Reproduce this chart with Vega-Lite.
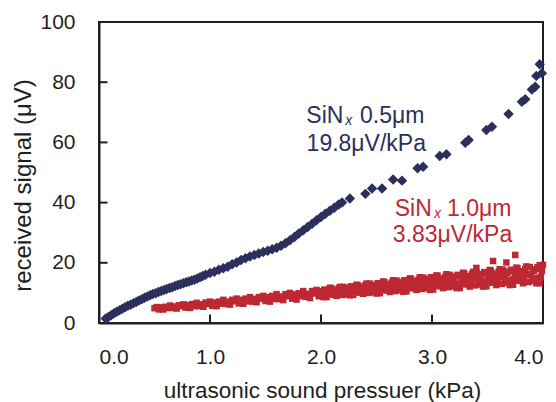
{
  "$schema": "https://vega.github.io/schema/vega-lite/v6.json",
  "width": 444,
  "height": 301,
  "autosize": {"type": "none"},
  "padding": {"left": 99, "top": 22, "right": 13, "bottom": 79},
  "background": "white",
  "config": {
    "view": {"stroke": "#231F20", "strokeWidth": 2},
    "font": "Liberation Sans",
    "axis": {
      "grid": false,
      "zindex": 1,
      "ticks": false,
      "domainColor": "#231F20",
      "domainWidth": 2,
      "labelFont": "Liberation Sans",
      "labelFontSize": 21,
      "labelColor": "#231F20",
      "titleFont": "Liberation Sans",
      "titleFontWeight": "normal",
      "titleColor": "#231F20"
    }
  },
  "datasets": {
    "blue": [
      {"p":0.06,"v":1.5},{"p":0.085,"v":2.0},{"p":0.11,"v":2.6},{"p":0.135,"v":3.2},{"p":0.16,"v":3.7},{"p":0.185,"v":4.2},{"p":0.21,"v":4.7},{"p":0.235,"v":5.2},{"p":0.26,"v":5.7},{"p":0.285,"v":6.1},{"p":0.31,"v":6.6},{"p":0.335,"v":7.0},{"p":0.36,"v":7.5},{"p":0.385,"v":7.9},{"p":0.41,"v":8.4},{"p":0.435,"v":8.8},{"p":0.46,"v":9.2},{"p":0.485,"v":9.6},{"p":0.51,"v":9.9},{"p":0.535,"v":10.3},{"p":0.56,"v":10.6},{"p":0.585,"v":11.0},{"p":0.61,"v":11.3},{"p":0.635,"v":11.6},{"p":0.66,"v":11.9},{"p":0.685,"v":12.3},{"p":0.71,"v":12.6},{"p":0.735,"v":12.9},{"p":0.76,"v":13.2},{"p":0.785,"v":13.5},{"p":0.81,"v":13.8},{"p":0.835,"v":14.1},{"p":0.86,"v":14.4},{"p":0.885,"v":14.8},{"p":0.91,"v":15.2},{"p":0.935,"v":15.6},{"p":0.96,"v":16.0},
      {"p":1.0,"v":16.6},{"p":1.04,"v":17.0},{"p":1.08,"v":17.7},{"p":1.12,"v":18.2},{"p":1.16,"v":18.7},{"p":1.2,"v":19.5},{"p":1.24,"v":20.1},{"p":1.28,"v":20.9},{"p":1.32,"v":21.5},{"p":1.36,"v":22.1},{"p":1.4,"v":22.6},{"p":1.44,"v":23.1},{"p":1.48,"v":23.6},{"p":1.52,"v":24.0},{"p":1.56,"v":24.5},{"p":1.6,"v":25.0},{"p":1.64,"v":25.7},{"p":1.68,"v":26.5},{"p":1.72,"v":27.5},{"p":1.76,"v":28.6},{"p":1.8,"v":29.7},{"p":1.84,"v":30.8},{"p":1.88,"v":31.9},{"p":1.92,"v":33.0},{"p":1.96,"v":34.1},{"p":2.0,"v":35.2},{"p":2.04,"v":36.3},{"p":2.08,"v":37.3},{"p":2.12,"v":38.3},{"p":2.16,"v":39.4},{"p":2.19,"v":40.0},{"p":2.26,"v":41.4},
      {"p":2.40,"v":42.9},{"p":2.46,"v":44.7},{"p":2.55,"v":44.7},{"p":2.65,"v":47.7},{"p":2.73,"v":47.3},{"p":2.87,"v":51.4},{"p":2.92,"v":51.9},{"p":3.07,"v":55.5},{"p":3.13,"v":56.1},{"p":3.30,"v":59.9},{"p":3.33,"v":60.8},{"p":3.49,"v":64.1},{"p":3.54,"v":65.2},{"p":3.69,"v":69.4},{"p":3.81,"v":73.5},{"p":3.84,"v":74.3},{"p":3.90,"v":77.6},{"p":3.93,"v":78.5},{"p":3.94,"v":82.1},{"p":3.99,"v":83.0},{"p":3.97,"v":86.0}
    ],
    "red": [
      {"p":0.50,"v":4.9},{"p":0.52,"v":5.3},{"p":0.54,"v":4.5},{"p":0.56,"v":5.2},{"p":0.58,"v":4.5},{"p":0.60,"v":5.4},{"p":0.62,"v":5.0},{"p":0.64,"v":5.8},{"p":0.66,"v":5.0},{"p":0.68,"v":5.5},{"p":0.70,"v":4.8},{"p":0.72,"v":5.9},{"p":0.74,"v":5.6},{"p":0.76,"v":6.2},{"p":0.78,"v":5.1},{"p":0.80,"v":6.0},{"p":0.82,"v":5.0},{"p":0.84,"v":6.3},{"p":0.86,"v":5.6},{"p":0.88,"v":6.7},{"p":0.90,"v":5.6},{"p":0.92,"v":6.2},{"p":0.94,"v":5.4},{"p":0.96,"v":6.8},{"p":0.98,"v":6.3},
      {"p":1.00,"v":7.1},{"p":1.02,"v":5.7},{"p":1.04,"v":6.8},{"p":1.06,"v":5.6},{"p":1.08,"v":7.1},{"p":1.10,"v":6.4},{"p":1.12,"v":7.7},{"p":1.14,"v":6.3},{"p":1.16,"v":7.1},{"p":1.18,"v":6.1},{"p":1.20,"v":7.7},{"p":1.22,"v":7.2},{"p":1.24,"v":8.1},{"p":1.26,"v":6.5},{"p":1.28,"v":7.7},{"p":1.30,"v":6.4},{"p":1.32,"v":8.1},{"p":1.34,"v":7.2},{"p":1.36,"v":8.6},{"p":1.38,"v":7.1},{"p":1.40,"v":8.0},{"p":1.42,"v":6.9},{"p":1.44,"v":8.6},{"p":1.46,"v":8.1},{"p":1.48,"v":9.0},{"p":1.50,"v":7.3},{"p":1.52,"v":8.6},{"p":1.54,"v":7.1},{"p":1.56,"v":9.0},{"p":1.58,"v":8.0},{"p":1.60,"v":9.6},{"p":1.62,"v":7.9},{"p":1.64,"v":8.8},{"p":1.66,"v":7.6},{"p":1.68,"v":9.6},{"p":1.70,"v":8.9},{"p":1.72,"v":10.0},{"p":1.74,"v":8.1},{"p":1.76,"v":9.5},{"p":1.78,"v":7.8},{"p":1.80,"v":9.9},{"p":1.82,"v":8.9},{"p":1.84,"v":10.6},{"p":1.86,"v":8.7},{"p":1.88,"v":9.7},{"p":1.90,"v":8.3},{"p":1.92,"v":10.6},{"p":1.94,"v":9.8},{"p":1.96,"v":11.0},{"p":1.98,"v":8.9},
      {"p":2.00,"v":10.5},{"p":2.02,"v":8.6},{"p":2.04,"v":10.9},{"p":2.06,"v":9.7},{"p":2.08,"v":11.7},{"p":2.10,"v":9.5},{"p":2.12,"v":10.6},{"p":2.14,"v":9.0},{"p":2.16,"v":11.5},{"p":2.18,"v":10.7},{"p":2.20,"v":12.0},{"p":2.22,"v":9.5},{"p":2.24,"v":11.4},{"p":2.26,"v":9.2},{"p":2.28,"v":11.9},{"p":2.30,"v":10.4},{"p":2.32,"v":12.7},{"p":2.34,"v":10.2},{"p":2.36,"v":11.5},{"p":2.38,"v":9.7},{"p":2.40,"v":12.5},{"p":2.42,"v":11.5},{"p":2.44,"v":13.1},{"p":2.46,"v":10.2},{"p":2.48,"v":12.3},{"p":2.50,"v":9.8},{"p":2.52,"v":12.8},{"p":2.54,"v":11.2},{"p":2.56,"v":13.8},{"p":2.58,"v":11.0},{"p":2.60,"v":12.4},{"p":2.62,"v":10.3},{"p":2.64,"v":13.5},{"p":2.66,"v":12.4},{"p":2.68,"v":14.1},{"p":2.70,"v":10.9},{"p":2.72,"v":13.2},{"p":2.74,"v":10.4},{"p":2.76,"v":13.8},{"p":2.78,"v":12.0},{"p":2.80,"v":14.8},{"p":2.82,"v":11.7},{"p":2.84,"v":13.3},{"p":2.86,"v":11.0},{"p":2.88,"v":14.5},{"p":2.90,"v":13.3},{"p":2.92,"v":15.1},{"p":2.94,"v":11.6},{"p":2.96,"v":14.2},{"p":2.98,"v":11.0},
      {"p":3.00,"v":14.8},{"p":3.02,"v":12.8},{"p":3.04,"v":15.8},{"p":3.06,"v":12.4},{"p":3.08,"v":14.1},{"p":3.10,"v":11.6},{"p":3.12,"v":15.4},{"p":3.14,"v":14.0},{"p":3.16,"v":16.0},{"p":3.18,"v":12.2},{"p":3.20,"v":15.0},{"p":3.22,"v":11.6},{"p":3.24,"v":15.6},{"p":3.26,"v":13.4},{"p":3.28,"v":16.7},{"p":3.30,"v":13.0},{"p":3.32,"v":14.8},{"p":3.34,"v":12.1},{"p":3.36,"v":16.2},{"p":3.38,"v":14.8},{"p":3.40,"v":16.9},{"p":3.42,"v":12.8},{"p":3.44,"v":15.7},{"p":3.46,"v":12.1},{"p":3.48,"v":16.4},{"p":3.50,"v":14.1},{"p":3.52,"v":17.6},{"p":3.54,"v":13.6},{"p":3.56,"v":15.6},{"p":3.58,"v":12.6},{"p":3.60,"v":17.0},{"p":3.62,"v":15.5},{"p":3.64,"v":17.7},{"p":3.66,"v":13.4},{"p":3.68,"v":16.5},{"p":3.70,"v":12.6},{"p":3.72,"v":17.2},{"p":3.74,"v":14.7},{"p":3.76,"v":18.4},{"p":3.78,"v":14.2},{"p":3.80,"v":16.3},{"p":3.82,"v":13.2},{"p":3.84,"v":17.9},{"p":3.86,"v":16.2},{"p":3.88,"v":18.6},{"p":3.90,"v":14.0},{"p":3.92,"v":17.2},{"p":3.94,"v":13.2},{"p":3.96,"v":18.0},{"p":3.98,"v":15.3},{"p":4.00,"v":19.3},
      {"p":2.01,"v":9.4},{"p":2.03,"v":11.1},{"p":2.05,"v":8.6},{"p":2.07,"v":10.6},{"p":2.09,"v":11.6},{"p":2.11,"v":9.4},{"p":2.13,"v":11.1},{"p":2.15,"v":10.1},{"p":2.17,"v":12.0},{"p":2.19,"v":9.3},{"p":2.21,"v":10.6},{"p":2.23,"v":11.7},{"p":2.25,"v":10.1},{"p":2.27,"v":12.2},{"p":2.29,"v":9.3},{"p":2.31,"v":11.5},{"p":2.33,"v":12.6},{"p":2.35,"v":10.1},{"p":2.37,"v":12.1},{"p":2.39,"v":10.9},{"p":2.41,"v":13.1},{"p":2.43,"v":10.0},{"p":2.45,"v":11.5},{"p":2.47,"v":12.6},{"p":2.49,"v":10.9},{"p":2.51,"v":13.2},{"p":2.53,"v":9.9},{"p":2.55,"v":12.4},{"p":2.57,"v":13.6},{"p":2.59,"v":10.8},{"p":2.61,"v":13.0},{"p":2.63,"v":11.7},{"p":2.65,"v":14.2},{"p":2.67,"v":10.6},{"p":2.69,"v":12.3},{"p":2.71,"v":13.6},{"p":2.73,"v":11.6},{"p":2.75,"v":14.2},{"p":2.77,"v":10.5},{"p":2.79,"v":13.3},{"p":2.81,"v":14.7},{"p":2.83,"v":11.5},{"p":2.85,"v":14.0},{"p":2.87,"v":12.5},{"p":2.89,"v":15.2},{"p":2.91,"v":11.3},{"p":2.93,"v":13.2},{"p":2.95,"v":14.6},{"p":2.97,"v":12.4},{"p":2.99,"v":15.2},
      {"p":3.01,"v":11.1},{"p":3.03,"v":14.2},{"p":3.05,"v":15.7},{"p":3.07,"v":12.2},{"p":3.09,"v":14.8},{"p":3.11,"v":13.2},{"p":3.13,"v":16.2},{"p":3.15,"v":11.9},{"p":3.17,"v":13.9},{"p":3.19,"v":15.4},{"p":3.21,"v":13.0},{"p":3.23,"v":16.0},{"p":3.25,"v":11.6},{"p":3.27,"v":14.9},{"p":3.29,"v":16.5},{"p":3.31,"v":12.8},{"p":3.33,"v":15.6},{"p":3.35,"v":13.9},{"p":3.37,"v":17.0},{"p":3.39,"v":12.5},{"p":3.41,"v":14.6},{"p":3.43,"v":16.2},{"p":3.45,"v":13.7},{"p":3.47,"v":16.9},{"p":3.49,"v":12.2},{"p":3.51,"v":15.7},{"p":3.53,"v":17.3},{"p":3.55,"v":13.4},{"p":3.57,"v":16.4},{"p":3.59,"v":14.6},{"p":3.61,"v":17.9},{"p":3.63,"v":13.0},{"p":3.65,"v":15.3},{"p":3.67,"v":17.0},{"p":3.69,"v":14.3},{"p":3.71,"v":17.7},{"p":3.73,"v":12.7},{"p":3.75,"v":16.4},{"p":3.77,"v":18.2},{"p":3.79,"v":14.0},{"p":3.81,"v":17.2},{"p":3.83,"v":15.2},{"p":3.85,"v":18.8},{"p":3.87,"v":13.6},{"p":3.89,"v":16.0},{"p":3.91,"v":17.8},{"p":3.93,"v":14.9},{"p":3.95,"v":18.5},{"p":3.97,"v":13.2},{"p":3.99,"v":17.2},
      {"p":3.55,"v":20.6},{"p":3.67,"v":20.1},{"p":3.75,"v":22.6},{"p":3.97,"v":19.2},{"p":3.40,"v":18.3}
    ],
    "xticks": [{"p":1,"v":0},{"p":2,"v":0},{"p":3,"v":0}],
    "yticks": [{"p":0,"v":20},{"p":0,"v":40},{"p":0,"v":60},{"p":0,"v":80}],
    "txtLeft": [
      {"p":1.868,"v":66.5,"t":"SiN","s":"a"},
      {"p":2.352,"v":66.5,"t":"0.5μm","s":"a"},
      {"p":2.664,"v":35.6,"t":"SiN","s":"b"},
      {"p":3.135,"v":35.6,"t":"1.0μm","s":"b"}
    ],
    "txtCenter": [
      {"p":2.408,"v":57.2,"t":"19.8μV/kPa","s":"a"},
      {"p":3.185,"v":26.9,"t":"3.83μV/kPa","s":"b"}
    ],
    "txtSub": [
      {"p":2.218,"v":66.5,"t":"x","s":"a"},
      {"p":3.017,"v":35.6,"t":"x","s":"b"}
    ]
  },
  "encoding": {
    "x": {
      "field": "p", "type": "quantitative",
      "scale": {"domain": [0, 4], "nice": false, "zero": false},
      "axis": {
        "title": "ultrasonic sound pressuer (kPa)",
        "values": [0, 1, 2, 3, 4],
        "format": ".1f",
        "labelPadding": 23,
        "titleFontSize": 22.5,
        "titleBaseline": "alphabetic",
        "titleY": 74,
        "titleX": 223
      }
    },
    "y": {
      "field": "v", "type": "quantitative",
      "scale": {"domain": [0, 100], "nice": false},
      "axis": {
        "title": "received signal (μV)",
        "values": [0, 20, 40, 60, 80, 100],
        "labelPadding": 24,
        "titleFontSize": 24,
        "titleAngle": -90,
        "titleBaseline": "middle",
        "titleAlign": "center",
        "titleX": -76,
        "titleY": 163
      }
    },
    "color": {
      "field": "s", "type": "nominal",
      "scale": {"domain": ["a", "b"], "range": ["#2C2F5B", "#BE2832"]},
      "legend": null
    }
  },
  "layer": [
    {
      "data": {"name": "red"},
      "transform": [{"calculate": "'b'", "as": "s"}],
      "mark": {"type": "point", "shape": "square", "filled": true, "size": 42, "opacity": 1, "strokeWidth": 0}
    },
    {
      "data": {"name": "blue"},
      "transform": [{"calculate": "'a'", "as": "s"}],
      "mark": {"type": "point", "shape": "diamond", "filled": true, "size": 110, "opacity": 1, "strokeWidth": 0}
    },
    {
      "data": {"name": "xticks"},
      "mark": {"type": "tick", "orient": "vertical", "size": 17, "thickness": 2, "clip": true, "opacity": 1},
      "encoding": {"color": {"value": "#231F20"}}
    },
    {
      "data": {"name": "yticks"},
      "mark": {"type": "tick", "orient": "horizontal", "size": 17, "thickness": 2, "clip": true, "opacity": 1},
      "encoding": {"color": {"value": "#231F20"}}
    },
    {
      "data": {"name": "txtLeft"},
      "mark": {"type": "text", "align": "left", "baseline": "alphabetic", "fontSize": 23, "font": "Liberation Sans"},
      "encoding": {"text": {"field": "t"}}
    },
    {
      "data": {"name": "txtCenter"},
      "mark": {"type": "text", "align": "center", "baseline": "alphabetic", "fontSize": 23, "font": "Liberation Sans"},
      "encoding": {"text": {"field": "t"}}
    },
    {
      "data": {"name": "txtSub"},
      "mark": {"type": "text", "align": "left", "baseline": "alphabetic", "fontSize": 14, "fontStyle": "italic", "dy": 2, "font": "Liberation Sans"},
      "encoding": {"text": {"field": "t"}}
    }
  ]
}
